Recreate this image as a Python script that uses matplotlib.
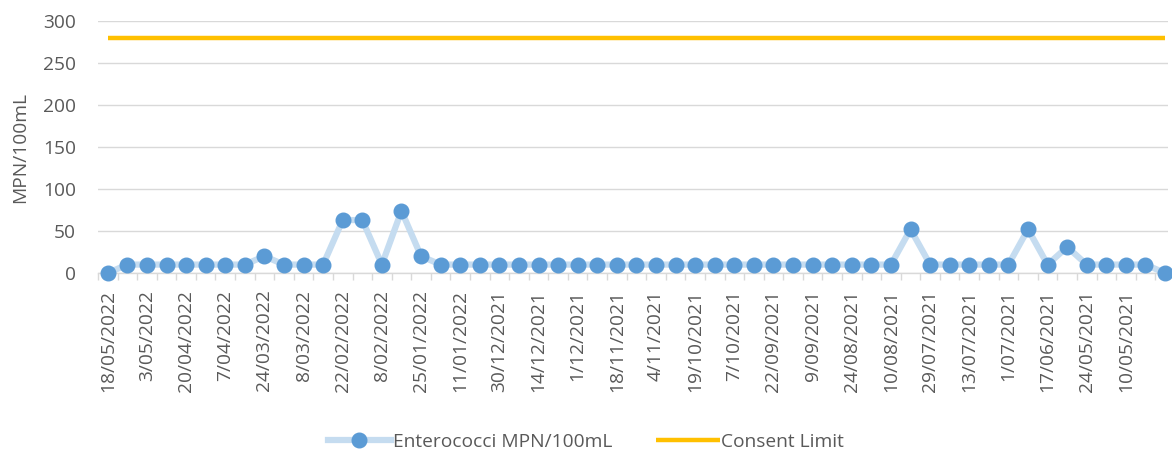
import matplotlib
matplotlib.use("Agg")
import matplotlib.pyplot as plt
from matplotlib.ticker import FixedLocator, NullFormatter

dates = ["18/05/2022", "10/05/2022", "3/05/2022", "26/04/2022", "20/04/2022", "13/04/2022",
         "7/04/2022", "31/03/2022", "24/03/2022", "16/03/2022", "8/03/2022", "1/03/2022",
         "22/02/2022", "15/02/2022", "8/02/2022", "1/02/2022", "25/01/2022", "18/01/2022",
         "11/01/2022", "5/01/2022", "30/12/2021", "22/12/2021", "14/12/2021", "7/12/2021",
         "1/12/2021", "24/11/2021", "18/11/2021", "11/11/2021", "4/11/2021", "27/10/2021",
         "19/10/2021", "13/10/2021", "7/10/2021", "29/09/2021", "22/09/2021", "15/09/2021",
         "9/09/2021", "1/09/2021", "24/08/2021", "17/08/2021", "10/08/2021", "4/08/2021",
         "29/07/2021", "21/07/2021", "13/07/2021", "7/07/2021", "1/07/2021", "24/06/2021",
         "17/06/2021", "3/06/2021", "24/05/2021", "17/05/2021", "10/05/2021", "3/05/2021",
         "26/04/2021"]
enterococci = [0, 10, 10, 10, 10, 10, 10, 10, 20, 10, 10, 10,
               63, 63, 10, 74, 20, 10, 10, 10, 10, 10, 10, 10,
               10, 10, 10, 10, 10, 10, 10, 10, 10, 10, 10, 10,
               10, 10, 10, 10, 10, 52, 10, 10, 10, 10, 10, 52,
               10, 31, 10, 10, 10, 10, 0]
consent_limit = [280] * len(dates)

plt.rcParams['font.family'] = ['Open Sans', 'DejaVu Sans']
txt = '#595959'
fs = 13.8

fig = plt.figure(figsize=(11.72, 4.54), dpi=100)
ax = fig.add_axes([0.0836, 0.3987, 0.9130, 0.5550])

x = list(range(len(dates)))
ax.plot(x, consent_limit, color='#FFC000', lw=3.2, solid_capstyle='butt',
        label='Consent Limit', zorder=2, clip_on=False)
ax.plot(x, enterococci, color='#C5DCF0', lw=4.5, marker='o', ms=10.5,
        markerfacecolor='#5B9BD5', markeredgecolor='#5B9BD5',
        label='Enterococci MPN/100mL', zorder=3, clip_on=False)

ax.set_ylim(0, 300)
ax.set_yticks(range(0, 301, 50))
ax.set_xlim(-0.5, 54.15)
ax.grid(axis='y', color='#D9D9D9', lw=1)
ax.set_axisbelow(True)
for s in ['top', 'right', 'left']:
    ax.spines[s].set_visible(False)
ax.spines['bottom'].set_color('#D9D9D9')
ax.spines['bottom'].set_linewidth(1)

major = x[:53:2]
ax.set_xticks(major)
ax.set_xticklabels([dates[i] for i in major], rotation=90, fontsize=fs, color=txt)
ax.tick_params(axis='x', which='major', length=0, pad=12)
ax.xaxis.set_minor_locator(FixedLocator([i - 0.5 for i in range(len(dates) + 1)]))
ax.xaxis.set_minor_formatter(NullFormatter())
ax.tick_params(axis='x', which='minor', length=5, color='#D9D9D9', width=1)
ax.tick_params(axis='y', length=0, labelsize=fs, labelcolor=txt, pad=16)
ax.set_ylabel('MPN/100mL', fontsize=fs, color=txt, labelpad=10)

handles, labels = ax.get_legend_handles_labels()
fig.legend(handles[::-1], labels[::-1], loc='center', bbox_to_anchor=(0.5, 0.026),
           ncol=2, frameon=False, fontsize=fs, labelcolor=txt, handlelength=3.3,
           columnspacing=2.3, handletextpad=0.1)

fig.savefig('out.png', dpi=100)
